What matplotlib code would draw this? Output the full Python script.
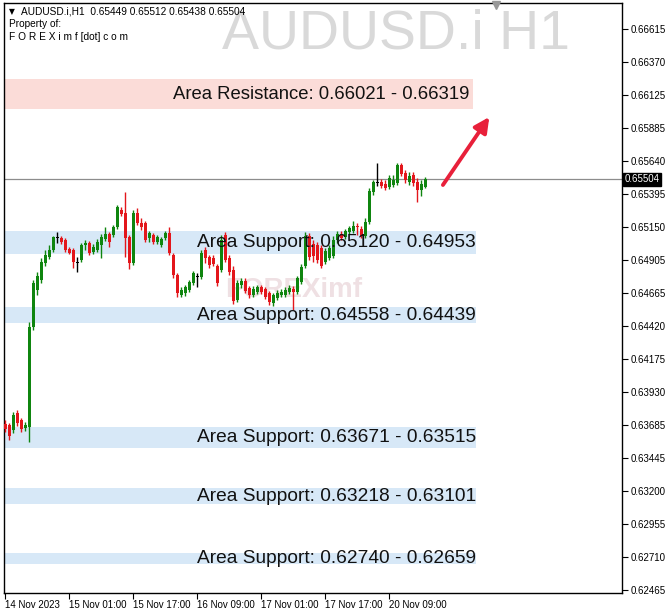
import numpy as np
import matplotlib.pyplot as plt
import matplotlib.transforms as mtransforms

# ---------------------------------------------------------------
# AUDUSD.i H1 candles
opens = [0.63692, 0.63685, 0.63648, 0.63774, 0.63722, 0.63663, 0.63670, 0.64410, 0.64684, 0.64758,
         0.64884, 0.64928, 0.64980, 0.65072, 0.65069, 0.65054, 0.64987, 0.64980, 0.64884, 0.64906,
         0.65017, 0.65032, 0.64965, 0.64980, 0.65017, 0.65061, 0.65098, 0.65091, 0.65150, 0.65276,
         0.65254, 0.65076, 0.64884, 0.65254, 0.65180, 0.65180, 0.65069, 0.65091, 0.65039, 0.65017,
         0.65069, 0.65106, 0.64943, 0.64795, 0.64647, 0.64662, 0.64684, 0.64736, 0.64780, 0.64780,
         0.64980, 0.64928, 0.64921, 0.64862, 0.64832, 0.65091, 0.64921, 0.64832, 0.64610, 0.64721,
         0.64750, 0.64699, 0.64647, 0.64669, 0.64706, 0.64691, 0.64662, 0.64588, 0.64625, 0.64647,
         0.64647, 0.64669, 0.64691, 0.64669, 0.64743, 0.64862, 0.65084, 0.65024, 0.65017, 0.64995,
         0.64891, 0.64921, 0.64935, 0.65054, 0.65098, 0.65076, 0.65113, 0.65121, 0.65158, 0.65135,
         0.65084, 0.65187, 0.65409, 0.65476, 0.65483, 0.65468, 0.65446, 0.65461, 0.65476, 0.65609,
         0.65550, 0.65483, 0.65535, 0.65483, 0.65424, 0.65446]
highs = [0.63722, 0.63700, 0.63781, 0.63796, 0.63737, 0.63707, 0.64447, 0.64758, 0.64817, 0.64921,
         0.64980, 0.65017, 0.65084, 0.65113, 0.65084, 0.65069, 0.65002, 0.64995, 0.64928, 0.65032,
         0.65054, 0.65047, 0.65024, 0.65061, 0.65098, 0.65150, 0.65113, 0.65165, 0.65313, 0.65298,
         0.65409, 0.65091, 0.65276, 0.65291, 0.65217, 0.65195, 0.65121, 0.65106, 0.65091, 0.65076,
         0.65121, 0.65150, 0.64958, 0.64810, 0.64706, 0.64721, 0.64758, 0.64825, 0.64810, 0.64980,
         0.65002, 0.64943, 0.64943, 0.64876, 0.65091, 0.65113, 0.64943, 0.64862, 0.64758, 0.64773,
         0.64773, 0.64714, 0.64714, 0.64721, 0.64721, 0.64706, 0.64677, 0.64662, 0.64684, 0.64691,
         0.64706, 0.64721, 0.64714, 0.64788, 0.64876, 0.65113, 0.65106, 0.65054, 0.65039, 0.65017,
         0.64995, 0.65017, 0.65084, 0.65121, 0.65121, 0.65135, 0.65158, 0.65195, 0.65180, 0.65158,
         0.65217, 0.65439, 0.65498, 0.65624, 0.65505, 0.65498, 0.65535, 0.65535, 0.65624, 0.65624,
         0.65572, 0.65557, 0.65557, 0.65513, 0.65498, 0.65520]
lows = [0.63633, 0.63574, 0.63626, 0.63678, 0.63633, 0.63641, 0.63559, 0.64388, 0.64647, 0.64736,
        0.64862, 0.64914, 0.64965, 0.65032, 0.65024, 0.64965, 0.64950, 0.64847, 0.64817, 0.64891,
        0.64980, 0.64943, 0.64950, 0.64965, 0.64921, 0.65047, 0.65002, 0.65076, 0.65135, 0.65232,
        0.64928, 0.64840, 0.64869, 0.65165, 0.65128, 0.65039, 0.65039, 0.65024, 0.65024, 0.65002,
        0.65054, 0.64943, 0.64773, 0.64632, 0.64632, 0.64640, 0.64669, 0.64721, 0.64706, 0.64765,
        0.64884, 0.64847, 0.64862, 0.64714, 0.64817, 0.64891, 0.64795, 0.64580, 0.64595, 0.64699,
        0.64662, 0.64625, 0.64632, 0.64654, 0.64654, 0.64617, 0.64573, 0.64565, 0.64610, 0.64632,
        0.64632, 0.64654, 0.64536, 0.64654, 0.64728, 0.64847, 0.64906, 0.64891, 0.64884, 0.64847,
        0.64876, 0.64906, 0.64921, 0.65032, 0.65054, 0.65061, 0.65098, 0.65106, 0.65091, 0.65069,
        0.65069, 0.65172, 0.65387, 0.65454, 0.65439, 0.65424, 0.65431, 0.65446, 0.65461, 0.65528,
        0.65476, 0.65461, 0.65454, 0.65335, 0.65380, 0.65439]
closes = [0.63655, 0.63604, 0.63759, 0.63700, 0.63655, 0.63685, 0.64410, 0.64736, 0.64788, 0.64891,
          0.64943, 0.64980, 0.65076, 0.65074, 0.65039, 0.64980, 0.64958, 0.64891, 0.64891, 0.65017,
          0.65032, 0.64958, 0.65002, 0.65039, 0.65076, 0.65098, 0.65039, 0.65150, 0.65298, 0.65246,
          0.65069, 0.64884, 0.65254, 0.65180, 0.65150, 0.65054, 0.65106, 0.65039, 0.65076, 0.65061,
          0.65106, 0.64958, 0.64795, 0.64662, 0.64684, 0.64706, 0.64743, 0.64810, 0.64788, 0.64958,
          0.64921, 0.64869, 0.64876, 0.64736, 0.65054, 0.64906, 0.64817, 0.64602, 0.64736, 0.64750,
          0.64677, 0.64647, 0.64691, 0.64706, 0.64669, 0.64632, 0.64595, 0.64647, 0.64662, 0.64669,
          0.64684, 0.64699, 0.64669, 0.64773, 0.64854, 0.65084, 0.64928, 0.64935, 0.64906, 0.64862,
          0.64973, 0.64995, 0.65054, 0.65098, 0.65069, 0.65121, 0.65143, 0.65158, 0.65150, 0.65084,
          0.65187, 0.65417, 0.65483, 0.65483, 0.65454, 0.65439, 0.65513, 0.65498, 0.65609, 0.65542,
          0.65498, 0.65528, 0.65476, 0.65424, 0.65468, 0.65504]

last_price = 0.65504
header = "AUDUSD.i,H1  0.65449 0.65512 0.65438 0.65504"

# zones (bottom, top) and their labels
support_zones = [(0.64953, 0.65120), (0.64439, 0.64558), (0.63515, 0.63671),
                 (0.63101, 0.63218), (0.62659, 0.62740)]
support_labels = ["Area Support: 0.65120 - 0.64953", "Area Support: 0.64558 - 0.64439",
                  "Area Support: 0.63671 - 0.63515", "Area Support: 0.63218 - 0.63101",
                  "Area Support: 0.62740 - 0.62659"]
resist_zone = (0.66021, 0.66244)
resist_label = "Area Resistance: 0.66021 - 0.66319"

ytick_vals = [0.66615, 0.66370, 0.66125, 0.65885, 0.65640, 0.65395, 0.65150, 0.64905, 0.64665,
              0.64420, 0.64175, 0.63930, 0.63685, 0.63445, 0.63200, 0.62955, 0.62710, 0.62465]
xtick_bars = [0, 16, 32, 48, 64, 80, 96]
xtick_labels = ['14 Nov 2023', '15 Nov 01:00', '15 Nov 17:00', '16 Nov 09:00',
                '17 Nov 01:00', '17 Nov 17:00', '20 Nov 09:00']

# arrow (bar, price)
arrow_from = (109.4, 0.65461)
arrow_to = (121.0, 0.65964)

# ---------------------------------------------------------------
plt.rcParams['font.family'] = ['Liberation Sans', 'DejaVu Sans']

fig = plt.figure(figsize=(6.71, 6.16), dpi=100)
ax = fig.add_axes([4 / 671, 23 / 616, 618 / 671, 590 / 616])

n = len(opens)
x = np.arange(n)
o = np.array(opens); h = np.array(highs); l = np.array(lows); c = np.array(closes)

green = '#0f850f'
red = '#e3161b'
cols = []
for i in range(n):
    if abs(c[i] - o[i]) <= 0.00008:
        cols.append('black')
    elif c[i] > o[i]:
        cols.append(green)
    else:
        cols.append(red)

xmin = -0.33
xmax = xmin + 618 / 4
band_end = 117.7

# zones
for (lo, hi), lab in zip(support_zones, support_labels):
    ax.fill_between([xmin, band_end], lo, hi, color='#d7e8f7', lw=0, zorder=1)
ax.fill_between([xmin, band_end - 0.7], resist_zone[0], resist_zone[1], color='#fbdcd8', lw=0, zorder=1)

# faint logo watermark
ax.text(72, 0.64685, "FOREXimf", fontsize=20, fontweight='bold', color='#efe0e3',
        ha='center', va='center', zorder=1.5)

# candles
ax.vlines(x, l, h, colors=cols, lw=1, zorder=3)
body_lo = np.minimum(o, c)
body_h = np.maximum(np.abs(c - o), 0.00003)
ax.bar(x, body_h, bottom=body_lo, width=0.75, color=cols, lw=0, zorder=3)

# current price line
ax.axhline(last_price, color='#8c8c8c', lw=0.9, zorder=2)

# zone labels
for (lo, hi), lab in zip(support_zones, support_labels):
    ax.text(band_end, (lo + hi) / 2, lab, fontsize=13.75, ha='right', va='center',
            color='#111111', zorder=4)
ax.text(band_end - 1.8, sum(resist_zone) / 2, resist_label, fontsize=13.3, ha='right',
        va='center', color='#111111', zorder=4)

# arrow
ax.annotate('', xy=arrow_to, xytext=arrow_from,
            arrowprops=dict(arrowstyle='-|>,head_length=0.9,head_width=0.45',
                            color='#e8203a', lw=2.8, shrinkA=0, shrinkB=0), zorder=5)

# big watermark symbol
ax.text(0.635, 0.990, "AUDUSD.i H1", transform=ax.transAxes, fontsize=40, color='#d9d9d9',
        ha='center', va='top', zorder=0)

# header texts
ax.text(0.008, 0.985, "\u25bc", transform=ax.transAxes, fontsize=5.5, va='center', ha='left',
        family=['DejaVu Sans'])
ax.text(0.027, 0.985, header, transform=ax.transAxes, fontsize=7.3, va='center', ha='left')
ax.text(0.008, 0.964, "Property of:", transform=ax.transAxes, fontsize=7.3, va='center', ha='left')
ax.text(0.008, 0.942, "F O R E X i m f [dot] c o m", transform=ax.transAxes, fontsize=7.3,
        va='center', ha='left')

# axes
ax.set_xlim(xmin, xmax)
ax.set_ylim(0.62443, 0.66807)
ax.yaxis.tick_right()
ax.set_yticks(ytick_vals)
ax.set_yticklabels(['%.5f' % v for v in ytick_vals])
ax.set_xticks(xtick_bars)
ax.set_xticklabels(xtick_labels)
ax.tick_params(axis='y', length=4, width=0.8, labelsize=7, pad=2)
ax.tick_params(axis='x', length=4, width=0.8, labelsize=7, pad=1)
for t in ax.get_xticklabels():
    t.set_ha('left')
for s in ax.spines.values():
    s.set_linewidth(1.0)
    s.set_color('black')

# last price box on the right axis
trans = mtransforms.blended_transform_factory(ax.transAxes, ax.transData)
ax.text(1.004, last_price, "%.5f" % last_price, transform=trans, fontsize=7, color='white',
        ha='left', va='center', zorder=6,
        bbox=dict(boxstyle='square,pad=0.15', fc='black', ec='black'))

# small shift marker on top
ax.plot([0.796], [0.997], marker='v', color='#999999', markersize=6, transform=ax.transAxes,
        clip_on=False, zorder=6)

fig.savefig('out.png', dpi=100)
